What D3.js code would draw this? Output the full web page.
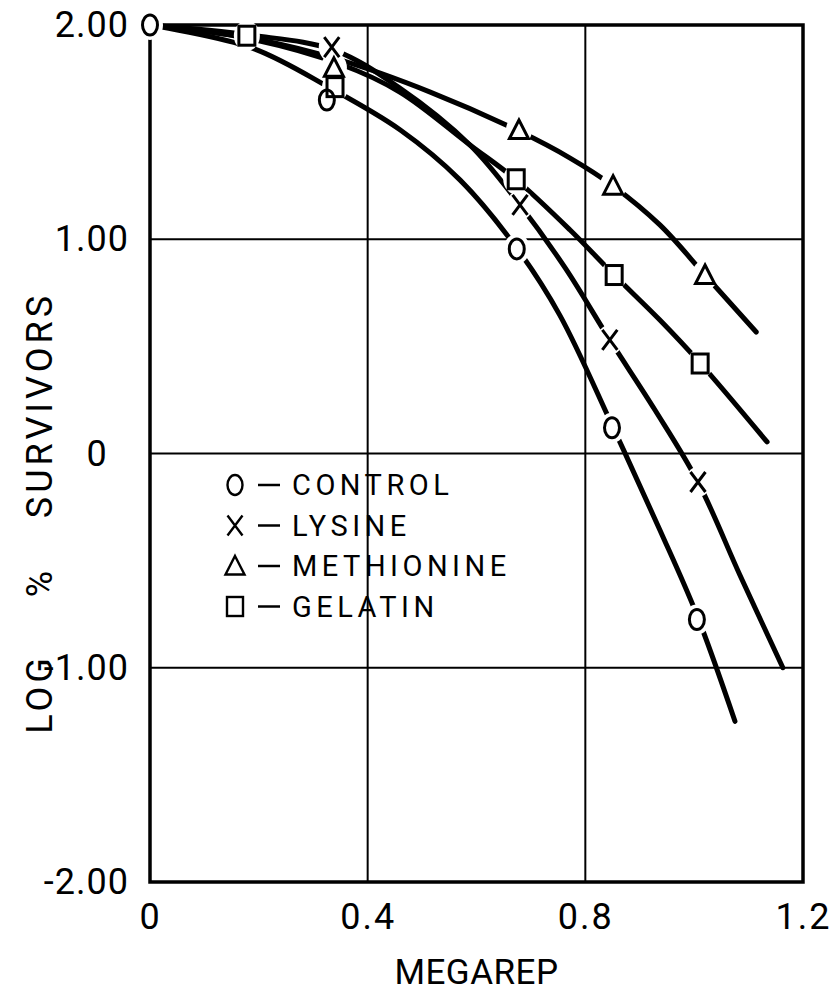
<!DOCTYPE html>
<html>
<head>
<meta charset="utf-8">
<script src="https://cdn.jsdelivr.net/npm/d3@7"></script>
<style>
  html, body { margin: 0; padding: 0; background: #fff; }
  svg text { font-family: Roboto, "Liberation Sans", sans-serif; fill: #000; }
</style>
</head>
<body>
<svg id="chart" width="834" height="994"></svg>
<script>
// Axis ticks
const xTicks = [0, 0.4, 0.8, 1.2];
const xTickLabels = ["0", "0.4", "0.8", "1.2"];
const yTicks = [2, 1, 0, -1, -2];
const yTickLabels = ["2.00", "1.00", "0", "-1.00", "-2.00"];

// Series names and marker kinds (legend order)
const seriesNames = ["CONTROL", "LYSINE", "METHIONINE", "GELATIN"];
const seriesMarkers = ["circle", "cross", "triangle", "square"];

// Measured points: [megarep, log % survivors]
const controlPoints = [[0, 2.00], [0.325, 1.65], [0.674, 0.955], [0.849, 0.12], [1.005, -0.775]];
const lysinePoints = [[0.334, 1.897], [0.680, 1.16], [0.845, 0.53], [1.007, -0.133]];
const methioninePoints = [[0.338, 1.80], [0.678, 1.51], [0.851, 1.25], [1.020, 0.833]];
const gelatinPoints = [[0.178, 1.95], [0.340, 1.71], [0.673, 1.28], [0.853, 0.833], [1.011, 0.42]];

// Hand-fitted survival curves
const controlCurve = [[0, 2.0], [0.187, 1.893], [0.331, 1.706], [0.460, 1.510], [0.570, 1.276], [0.674, 0.959],
  [0.753, 0.646], [0.849, 0.133], [0.937, -0.357], [1.005, -0.754], [1.075, -1.25]];
const lysineCurve = [[0, 2.0], [0.184, 1.953], [0.338, 1.883], [0.459, 1.706], [0.588, 1.440], [0.680, 1.160],
  [0.763, 0.866], [0.845, 0.530], [0.928, 0.203], [1.007, -0.133], [1.084, -0.567], [1.163, -1.0]];
const methionineCurve = [[0, 2.0], [0.184, 1.939], [0.349, 1.837], [0.515, 1.687], [0.678, 1.505], [0.772, 1.379],
  [0.851, 1.249], [0.937, 1.067], [1.020, 0.833], [1.114, 0.567]];
const gelatinCurve = [[0, 2.0], [0.178, 1.939], [0.349, 1.818], [0.459, 1.687], [0.588, 1.440], [0.673, 1.277],
  [0.772, 1.043], [0.853, 0.833], [0.937, 0.623], [1.011, 0.422], [1.134, 0.054]];

const seriesPoints = [controlPoints, lysinePoints, methioninePoints, gelatinPoints];
const seriesCurves = [controlCurve, lysineCurve, methionineCurve, gelatinCurve];

const svg = d3.select("#chart");
const plotLeft = 150, plotRight = 803, plotTop = 25, plotBottom = 882;
const x = d3.scaleLinear().domain([0, 1.2]).range([plotLeft, plotRight]);
const y = d3.scaleLinear().domain([-2, 2]).range([plotBottom, plotTop]);

// Grid lines
const grid = svg.append("g").attr("stroke", "#000").attr("stroke-width", 2);
grid.selectAll("line.v").data(xTicks.slice(1, -1)).join("line").attr("class", "v")
  .attr("x1", d => x(d)).attr("x2", d => x(d)).attr("y1", plotTop).attr("y2", plotBottom);
grid.selectAll("line.h").data(yTicks.slice(1, -1)).join("line").attr("class", "h")
  .attr("x1", plotLeft).attr("x2", plotRight).attr("y1", d => y(d)).attr("y2", d => y(d));

// Frame
svg.append("rect").attr("x", plotLeft).attr("y", plotTop)
  .attr("width", plotRight - plotLeft).attr("height", plotBottom - plotTop)
  .attr("fill", "none").attr("stroke", "#000").attr("stroke-width", 3.5);

// Curves
const line = d3.line().x(d => x(d[0])).y(d => y(d[1])).curve(d3.curveCatmullRom.alpha(0.5));
svg.append("g").selectAll("path").data(seriesCurves).join("path")
  .attr("d", line).attr("fill", "none").attr("stroke", "#000")
  .attr("stroke-width", 5).attr("stroke-linecap", "round");

// Marker glyphs
function drawMarker(g, kind, sw) {
  if (kind === "circle") {
    g.append("ellipse").attr("rx", 7.5).attr("ry", 10).attr("fill", "none").attr("stroke", "#000").attr("stroke-width", sw);
  } else if (kind === "cross") {
    g.append("path").attr("d", "M-7.5,-10L7.5,10M7.5,-10L-7.5,10").attr("fill", "none").attr("stroke", "#000").attr("stroke-width", sw);
  } else if (kind === "triangle") {
    g.append("path").attr("d", "M0,-10L9.5,8.5L-9.5,8.5Z").attr("fill", "none").attr("stroke", "#000")
      .attr("stroke-width", sw).attr("stroke-linejoin", "miter");
  } else {
    g.append("rect").attr("x", -8).attr("y", -9.5).attr("width", 16).attr("height", 19)
      .attr("fill", "none").attr("stroke", "#000").attr("stroke-width", sw);
  }
}

// White halos break the curves around each point, then the markers
const markerLayer = svg.append("g");
seriesPoints.forEach(pts => {
  pts.forEach(p => {
    markerLayer.append("ellipse").attr("cx", x(p[0])).attr("cy", y(p[1]))
      .attr("rx", 13).attr("ry", 15).attr("fill", "#fff");
  });
});
seriesPoints.forEach((pts, i) => {
  pts.forEach(p => {
    const g = markerLayer.append("g").attr("transform", `translate(${x(p[0])},${y(p[1])})`);
    drawMarker(g, seriesMarkers[i], 3);
  });
});

// Axes (labels only)
const xAxis = svg.append("g").attr("transform", `translate(0,${plotBottom})`)
  .call(d3.axisBottom(x).tickValues(xTicks).tickFormat((d, i) => xTickLabels[i]).tickSize(0).tickPadding(21));
xAxis.select(".domain").remove();
xAxis.selectAll("text").attr("font-size", 36).attr("letter-spacing", 2).attr("font-family", "Roboto, sans-serif");

const yAxis = svg.append("g").attr("transform", `translate(${plotLeft},0)`)
  .call(d3.axisLeft(y).tickValues(yTicks).tickFormat((d, i) => yTickLabels[i]).tickSize(0).tickPadding(21));
yAxis.select(".domain").remove();
yAxis.selectAll("text").attr("font-size", 36).attr("letter-spacing", 1).attr("font-family", "Roboto, sans-serif");
yAxis.selectAll("text").filter(d => d === 0).attr("text-anchor", "middle").attr("x", -53);

// Axis titles
svg.append("text").attr("x", (plotLeft + plotRight) / 2).attr("y", 984).attr("text-anchor", "middle")
  .attr("font-size", 35).attr("letter-spacing", 0.5).text("MEGAREP");

const yTitle = svg.append("g").attr("transform", "translate(52,0) rotate(-90)");
[["LOG", 694], ["%", 582], ["SURVIVORS", 405]].forEach(([t, pos]) => {
  yTitle.append("text").attr("x", -pos).attr("y", 0).attr("text-anchor", "middle")
    .attr("font-size", 36).attr("letter-spacing", 4).text(t);
});

// Legend
const legend = svg.append("g");
seriesNames.forEach((name, i) => {
  const base = 495 + i * 40.5;
  const g = legend.append("g").attr("transform", `translate(235,${base - 10})`);
  drawMarker(g, seriesMarkers[i], 2.4);
  legend.append("line").attr("x1", 258).attr("x2", 280).attr("y1", base - 10).attr("y2", base - 10)
    .attr("stroke", "#000").attr("stroke-width", 2.5);
  legend.append("text").attr("x", 292).attr("y", base).attr("font-size", 29)
    .attr("letter-spacing", 4.5).text(name);
});
</script>
</body>
</html>
